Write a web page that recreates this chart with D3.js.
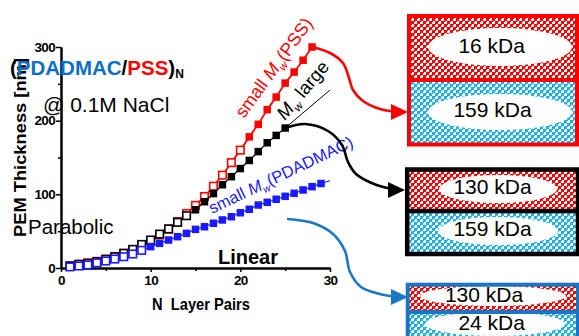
<!DOCTYPE html>
<html><head><meta charset="utf-8">
<script src="https://cdn.jsdelivr.net/npm/d3@7"></script>
<style>body{margin:0;background:#fff}svg{display:block}text{font-family:"Liberation Sans",Arial,sans-serif}</style>
</head><body><svg id="c" width="579" height="336"></svg>
<script>
// ---- data ----
const xTicks = [0, 10, 20, 30];
const xMinor = [5, 15, 25];
const yTicks = [0, 100, 200, 300];
const yMinor = [50, 150, 250];

const redLayers = [1,2,3,4,5,6,7,8,9,10,11,12,13,14,15,16,17,18,19,20,21,22,23,24,25,26,27,28];
const redValues = [3,5,7,9,12,15.5,20,25,31,37,45,53,63,74,85,97,111,126,143,160,178,195,215,232,251,266,282,300];
const redFilledFrom = 21;

const blackLayers = [1,2,3,4,5,6,7,8,9,10,11,12,13,14,15,16,17,18,19,20,21,22,23,24,25];
const blackValues = [2.7,5,6.3,8.5,11.8,15.3,19.9,25.3,32,38,46,53,62,71,79,90,101,113,124,135,146,158,170,180,190];
const blackFilledFrom = 15;

const blueLayers = [1,2,3,4,5,6,7,8,9,10,11,12,13,14,15,16,17,18,19,20,21,22,23,24,25,26,27,28,29];
const blueValues = [1.5,2.7,4.1,7,9.5,12.2,15.3,19,24,29,33.5,38,42.5,47,52.5,56,60.7,65.2,69.6,75,79.7,85.5,89.2,93.3,97.3,101.4,105.9,110.4,114.7];
const blueFilledFrom = 10;
const blueTrendLayers = [29, 30];
const blueTrendValues = [114.7, 118.5];

const boxLabels = [["16 kDa", "159 kDa"], ["130 kDa", "159 kDa"], ["130 kDa", "24 kDa"]];

// ---- drawing ----
const svg = d3.select('#c');
svg.append('rect').attr('width', 579).attr('height', 336).attr('fill', '#fff');
const defs = svg.append('defs');
function checker(id, color) {
  const p = defs.append('pattern').attr('id', id).attr('width', 6).attr('height', 6).attr('patternUnits', 'userSpaceOnUse');
  p.append('rect').attr('width', 6).attr('height', 6).attr('fill', '#fff');
  p.append('rect').attr('width', 3).attr('height', 3).attr('fill', color);
  p.append('rect').attr('x', 3).attr('y', 3).attr('width', 3).attr('height', 3).attr('fill', color);
  p.append('rect').attr('x', 3).attr('y', 0).attr('width', 1).attr('height', 1).attr('fill', color);
  p.append('rect').attr('x', 0).attr('y', 3).attr('width', 1).attr('height', 1).attr('fill', color);
}
checker('chkRed', '#ff0000');
checker('chkBlue', '#1fb0ee');

const x = d3.scaleLinear().domain([0, 30]).range([61, 330]);
const y = d3.scaleLinear().domain([0, 300]).range([268, 47]);

// axes
const gy = svg.append('g').attr('transform', `translate(${x(0)},0)`)
  .call(d3.axisLeft(y).tickValues(yTicks).tickSize(5).tickPadding(1).tickSizeOuter(0));
const gyMinor = svg.append('g').attr('transform', `translate(${x(0)},0)`)
  .call(d3.axisLeft(y).tickValues(yMinor).tickSize(3).tickFormat('').tickSizeOuter(0));
const gx = svg.append('g').attr('transform', `translate(0,${y(0)})`)
  .call(d3.axisBottom(x).tickValues(xTicks).tickSize(4).tickPadding(3).tickSizeOuter(0));
const gxMinor = svg.append('g').attr('transform', `translate(0,${y(0)})`)
  .call(d3.axisBottom(x).tickValues(xMinor).tickSize(3).tickFormat('').tickSizeOuter(0));
[gy, gyMinor, gx, gxMinor].forEach(g => {
  g.select('.domain').attr('stroke', '#000').attr('stroke-width', 2);
  g.selectAll('.tick line').attr('stroke', '#000').attr('stroke-width', 1.5);
  g.selectAll('.tick text').attr('fill', '#000').attr('font-size', 13.5).attr('font-weight', 'bold')
    .attr('font-family', '"Liberation Sans",Arial,sans-serif').attr('letter-spacing', '-0.7px');
});

// axis titles
svg.append('text').attr('transform', 'translate(25.5,237) rotate(-90)')
  .attr('font-size', 16.5).attr('font-weight', 'bold').attr('textLength', 179).attr('lengthAdjust', 'spacingAndGlyphs')
  .text('PEM Thickness [nm]');
svg.append('text').attr('x', 152).attr('y', 310).attr('font-size', 17).attr('font-weight', 'bold')
  .attr('textLength', 98).attr('lengthAdjust', 'spacingAndGlyphs')
  .attr('xml:space', 'preserve').style('white-space', 'pre').text('N  Layer Pairs');

// series
function series(layers, values, color, filledFrom, lineW, s) {
  const pts = layers.map((n, i) => ({n, v: values[i]}));
  svg.append('path').datum(pts)
    .attr('d', d3.line().x(d => x(d.n)).y(d => y(d.v)))
    .attr('fill', 'none').attr('stroke', color).attr('stroke-width', lineW);
  svg.append('g').selectAll('rect').data(pts).join('rect')
    .attr('x', d => x(d.n) - s / 2).attr('y', d => y(d.v) - s / 2)
    .attr('width', s).attr('height', s)
    .attr('fill', d => d.n >= filledFrom ? color : '#fff')
    .attr('stroke', color).attr('stroke-width', d => d.n >= filledFrom ? 0 : 1.6);
}
series(redLayers, redValues, '#ff0000', redFilledFrom, 1.8, 7.5);
series(blackLayers, blackValues, '#000', blackFilledFrom, 1.2, 7.5);
svg.append('path').datum(blueTrendLayers.map((n, i) => ({n, v: blueTrendValues[i]})))
  .attr('d', d3.line().x(d => x(d.n)).y(d => y(d.v))).attr('fill', 'none').attr('stroke', '#1a1aff').attr('stroke-width', 1.2);
series(blueLayers, blueValues, '#1a1aff', blueFilledFrom, 1.2, 7.5);

// text labels
const title = svg.append('text').attr('x', 10).attr('y', 75).attr('font-size', 20.5).attr('font-weight', 'bold');
title.append('tspan').attr('fill', '#000').text('(');
title.append('tspan').attr('fill', '#0a70c6').text('PDADMAC');
title.append('tspan').attr('fill', '#000').text('/');
title.append('tspan').attr('fill', '#ff0000').text('PSS');
title.append('tspan').attr('fill', '#000').text(')');
title.append('tspan').attr('fill', '#000').attr('font-size', 12).attr('dy', 3).text('N');

svg.append('text').attr('x', 43).attr('y', 111.7).attr('font-size', 21).text('@ 0.1M NaCl');
svg.append('text').attr('x', 28).attr('y', 234.3).attr('font-size', 20.5).text('Parabolic');
svg.append('text').attr('x', 218).attr('y', 264).attr('font-size', 20).attr('font-weight', 'bold').text('Linear');

function mwLabel(tx, ty, ang, size, color, pre, post) {
  const t = svg.append('text').attr('transform', `translate(${tx},${ty}) rotate(${ang})`)
    .attr('font-size', size).attr('fill', color).attr('xml:space', 'preserve').style('white-space', 'pre');
  t.append('tspan').text(pre);
  t.append('tspan').attr('font-style', 'italic').text('M');
  t.append('tspan').attr('font-style', 'italic').attr('font-size', size * 0.62).attr('dy', size * 0.25).text('w');
  t.append('tspan').attr('dy', -size * 0.25).text(post);
}
mwLabel(244, 119, -54, 18, '#ff0000', 'small ', '(PSS)');
mwLabel(285, 121, -50, 18.5, '#000', '', ' large');
mwLabel(212, 214, -25.5, 16.5, '#1a1aff', 'small ', '(PDADMAC)');

// annotation leader for Mw large
svg.append('line').attr('x1', x(25)).attr('y1', y(190)).attr('x2', 330).attr('y2', 90)
  .attr('stroke', '#000').attr('stroke-width', 1);

// arrows
const curve = d3.line().curve(d3.curveCatmullRom.alpha(0.5));
function arrow(pts, color, tip) {
  svg.append('path').attr('d', curve(pts)).attr('fill', 'none').attr('stroke', color).attr('stroke-width', 2.6);
  svg.append('path').attr('d', `M${tip[0]},${tip[1]} L${tip[0] - 17},${tip[1] - 8} L${tip[0] - 17},${tip[1] + 8} Z`).attr('fill', color);
}
arrow([[x(28), y(300)], [330, 53], [343, 63], [349, 78], [353, 90], [363, 101], [380, 109], [395, 111.5]], '#ff0000', [408, 112]);
arrow([[x(25), y(190)], [305, 124], [328, 131], [342, 145], [348, 162], [356, 174], [374, 184], [392, 189]], '#000', [405, 190]);
arrow([[287, 219], [313, 223], [333, 234], [345, 251], [350, 272], [361, 287], [380, 294], [394, 296.5]], '#1a78c4', [408, 297]);

// boxes
const boxes = [
  {left: 409, top: 16, mid: 80, bottom: 144.5, right: 577, stroke: '#ff0000', sw: 4,
   ell: [[500, 47, 72, 19], [500, 112, 72, 18]], txt: [[491.7, 53.3], [492.5, 117.3]]},
  {left: 407.2, top: 169.5, mid: 211, bottom: 254, right: 578, stroke: '#000', sw: 4.5,
   ell: [[498, 189, 59, 14], [498, 231, 60, 14]], txt: [[492.5, 194.3], [492.5, 236]]},
  {left: 407.7, top: 284.7, mid: 312, bottom: 345, right: 578, stroke: '#1a75c4', sw: 4,
   ell: [[493, 296, 73, 10], [495, 324, 70, 12]], txt: [[484, 301.7], [491.7, 330]]}
];
boxes.forEach((b, i) => {
  const g = svg.append('g');
  g.append('rect').attr('x', b.left).attr('y', b.top).attr('width', b.right - b.left).attr('height', b.mid - b.top).attr('fill', 'url(#chkRed)');
  g.append('rect').attr('x', b.left).attr('y', b.mid).attr('width', b.right - b.left).attr('height', b.bottom - b.mid).attr('fill', 'url(#chkBlue)');
  b.ell.forEach(e => g.append('ellipse').attr('cx', e[0]).attr('cy', e[1]).attr('rx', e[2]).attr('ry', e[3]).attr('fill', '#fff'));
  g.append('rect').attr('x', b.left).attr('y', b.top).attr('width', b.right - b.left).attr('height', b.bottom - b.top)
    .attr('fill', 'none').attr('stroke', b.stroke).attr('stroke-width', b.sw);
  g.append('line').attr('x1', b.left).attr('x2', b.right).attr('y1', b.mid).attr('y2', b.mid).attr('stroke', b.stroke).attr('stroke-width', b.sw);
  boxLabels[i].forEach((lab, j) => g.append('text').attr('x', b.txt[j][0]).attr('y', b.txt[j][1])
    .attr('text-anchor', 'middle').attr('font-size', 21).attr('fill', '#000').text(lab));
});
</script></body></html>
